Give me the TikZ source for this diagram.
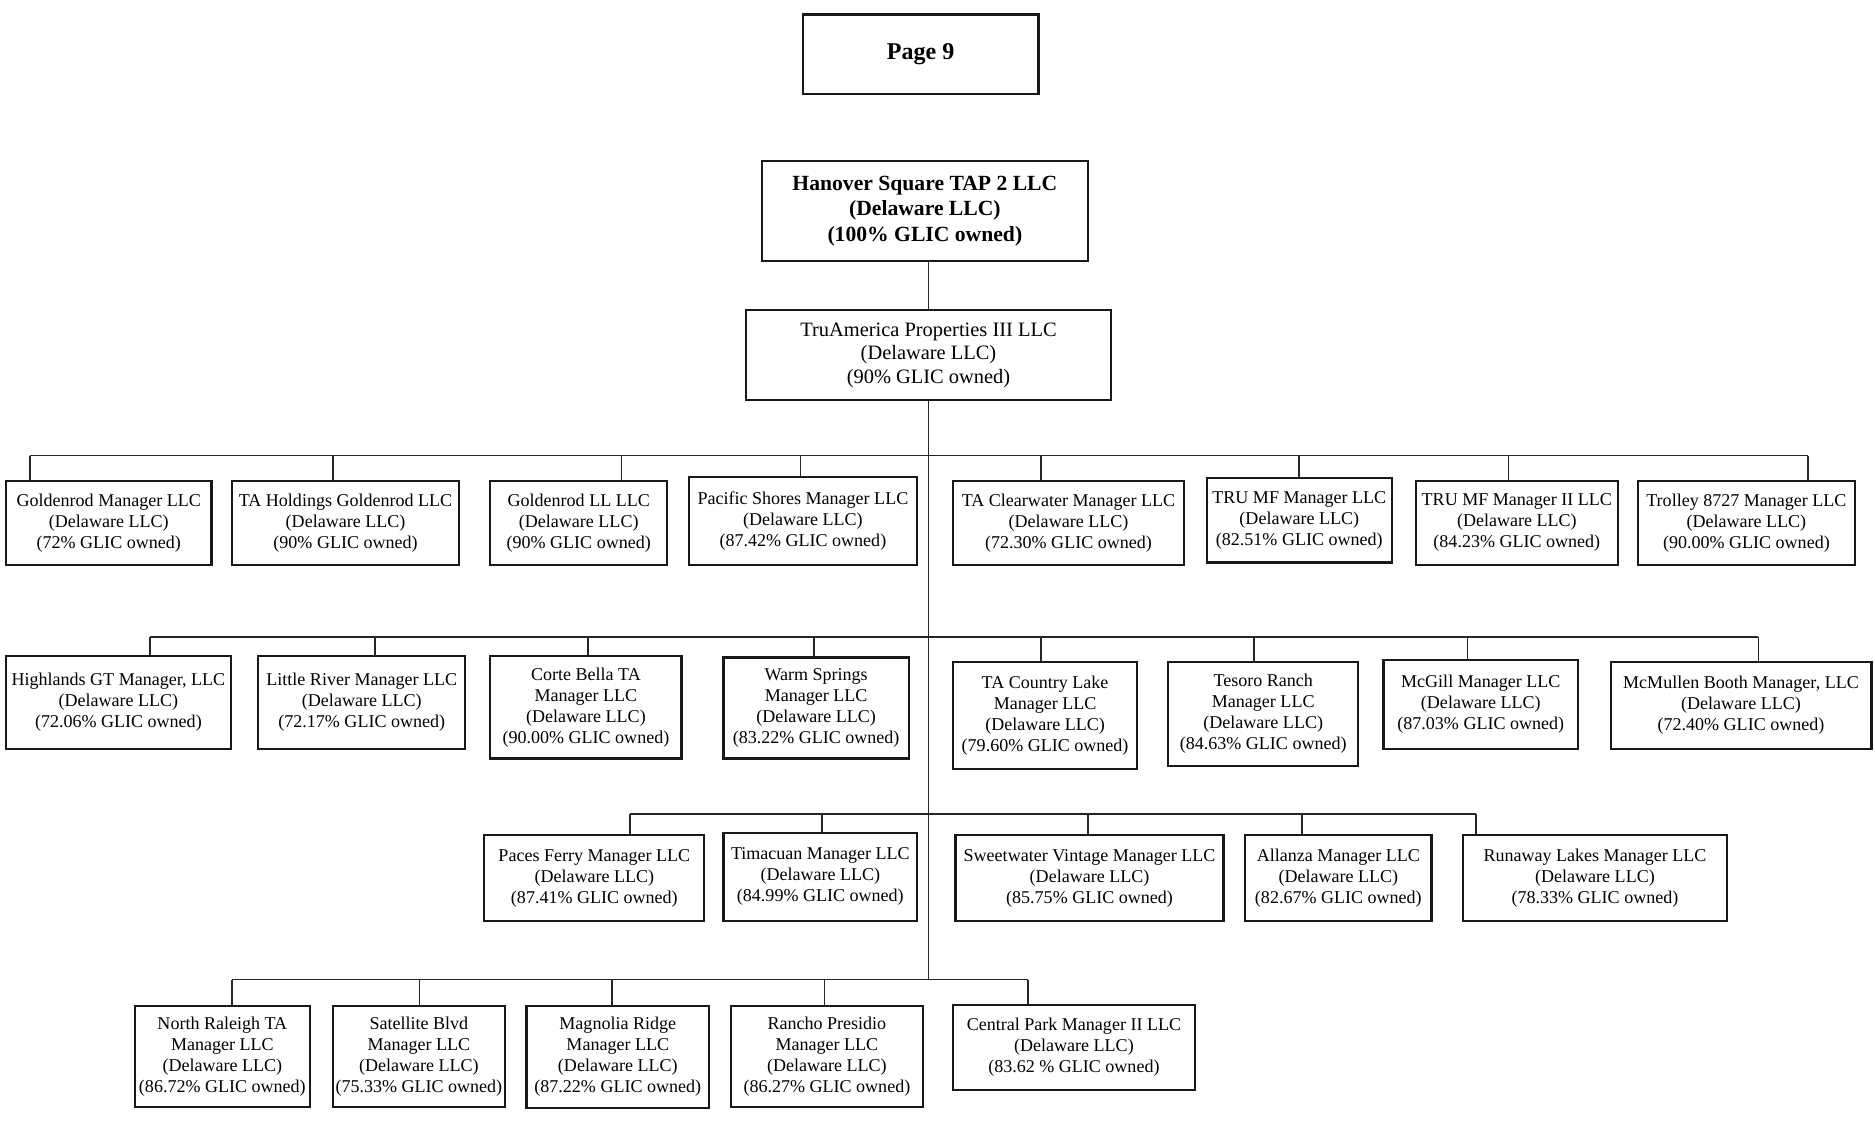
\documentclass[tikz,border=0pt]{standalone}
\usepackage{fontspec}
\setmainfont{Liberation Serif}
\tikzset{
  box/.style={draw=black!90, line width=1.8pt, inner sep=0pt, align=center, font=\fontsize{15}{17.5}\selectfont},
  conn/.style={draw=black!85, line width=1.5pt}
}
\newcommand\ent[8]{%
  \node[box, minimum width={(#4-#2)*1pt}, minimum height={(#5-#3)*1pt}] (#1) at ({(#2+#4)/2},{(#3+#5)/2}) {#8};
  \coordinate (#1-j) at (#6,#7);
  \draw[conn] (#1-j) -- (#1-j |- #1.north);}
\begin{document}
\begin{tikzpicture}[x=1pt,y=-1pt]
\useasboundingbox[fill=white] (0,0) rectangle (1560,932.7);
% page label
\node[box, minimum width=196pt, minimum height=66pt, font=\fontsize{20}{24}\selectfont\bfseries] (page) at (766,45) {Page 9};
% top entities
\node[box, minimum width=271pt, minimum height=83pt, font=\fontsize{18}{21}\selectfont\bfseries] (han) at (769.5,175.5) {Hanover Square TAP 2 LLC\\(Delaware LLC)\\(100\% GLIC owned)};
\node[box, minimum width=303pt, minimum height=75pt, font=\fontsize{17}{19.5}\selectfont] (tru) at (772.5,295.5) {TruAmerica Properties III LLC\\(Delaware LLC)\\(90\% GLIC owned)};
\draw[conn] (tru.north |- han.south) -- (tru.north);
% buses
\coordinate (b1L) at (25,379);  \coordinate (b1R) at (1504,379);
\coordinate (b2L) at (125,530); \coordinate (b2R) at (1463,530);
\coordinate (b3L) at (524,677); \coordinate (b3R) at (1228,677);
\coordinate (b4L) at (193,815); \coordinate (b4R) at (855,815);
\draw[conn] (b1L) -- (b1R);
\draw[conn] (b2L) -- (b2R);
\draw[conn] (b3L) -- (b3R);
\draw[conn] (b4L) -- (b4R);
\draw[conn] (tru.south) -- (tru.south |- b4L);
% row 1
\ent{a1}{5}{400}{176}{470}{25}{379}{Goldenrod Manager LLC\\(Delaware LLC)\\(72\% GLIC owned)}
\ent{a2}{193}{400}{382}{470}{277}{379}{TA Holdings Goldenrod LLC\\(Delaware LLC)\\(90\% GLIC owned)}
\ent{a3}{408}{400}{555}{470}{517}{379}{Goldenrod LL LLC\\(Delaware LLC)\\(90\% GLIC owned)}
\ent{a4}{573}{397}{763}{470}{666}{379}{Pacific Shores Manager LLC\\(Delaware LLC)\\(87.42\% GLIC owned)}
\ent{a5}{793}{400}{985}{470}{866}{379}{TA Clearwater Manager LLC\\(Delaware LLC)\\(72.30\% GLIC owned)}
\ent{a6}{1004}{398}{1158}{468}{1081}{379}{TRU MF Manager LLC\\(Delaware LLC)\\(82.51\% GLIC owned)}
\ent{a7}{1178}{400}{1346}{470}{1255}{379}{TRU MF Manager II LLC\\(Delaware LLC)\\(84.23\% GLIC owned)}
\ent{a8}{1363}{400}{1543}{470}{1504}{379}{Trolley 8727 Manager LLC\\(Delaware LLC)\\(90.00\% GLIC owned)}
% row 2
\ent{c1}{5}{546}{192}{623}{125}{530}{Highlands GT Manager, LLC\\(Delaware LLC)\\(72.06\% GLIC owned)}
\ent{c2}{215}{546}{387}{623}{312}{530}{Little River Manager LLC\\(Delaware LLC)\\(72.17\% GLIC owned)}
\ent{c3}{408}{546}{567}{631}{489}{530}{Corte Bella TA\\Manager LLC\\(Delaware LLC)\\(90.00\% GLIC owned)}
\ent{c4}{602}{547}{756}{631}{677}{530}{Warm Springs\\Manager LLC\\(Delaware LLC)\\(83.22\% GLIC owned)}
\ent{c5}{793}{551}{946}{640}{866}{530}{TA Country Lake\\Manager LLC\\(Delaware LLC)\\(79.60\% GLIC owned)}
\ent{c6}{972}{551}{1130}{637}{1043}{530}{Tesoro Ranch\\Manager LLC\\(Delaware LLC)\\(84.63\% GLIC owned)}
\ent{c7}{1151}{549}{1313}{623}{1221}{530}{McGill Manager LLC\\(Delaware LLC)\\(87.03\% GLIC owned)}
\ent{c8}{1340}{551}{1557}{623}{1463}{530}{McMullen Booth Manager, LLC\\(Delaware LLC)\\(72.40\% GLIC owned)}
% row 3
\ent{d1}{403}{695}{586}{766}{524}{677}{Paces Ferry Manager LLC\\(Delaware LLC)\\(87.41\% GLIC owned)}
\ent{d2}{602}{693}{763}{766}{684}{677}{Timacuan Manager LLC\\(Delaware LLC)\\(84.99\% GLIC owned)}
\ent{d3}{795}{695}{1018}{766}{905}{677}{Sweetwater Vintage Manager LLC\\(Delaware LLC)\\(85.75\% GLIC owned)}
\ent{d4}{1036}{695}{1191}{766}{1083}{677}{Allanza Manager LLC\\(Delaware LLC)\\(82.67\% GLIC owned)}
\ent{d5}{1217}{695}{1437}{766}{1228}{677}{Runaway Lakes Manager LLC\\(Delaware LLC)\\(78.33\% GLIC owned)}
% row 4
\ent{e1}{112}{837}{258}{921}{193}{815}{North Raleigh TA\\Manager LLC\\(Delaware LLC)\\(86.72\% GLIC owned)}
\ent{e2}{277}{837}{420}{921}{349}{815}{Satellite Blvd\\Manager LLC\\(Delaware LLC)\\(75.33\% GLIC owned)}
\ent{e3}{438}{837}{590}{922}{509}{815}{Magnolia Ridge\\Manager LLC\\(Delaware LLC)\\(87.22\% GLIC owned)}
\ent{e4}{608}{837}{768}{921}{686}{815}{Rancho Presidio\\Manager LLC\\(Delaware LLC)\\(86.27\% GLIC owned)}
\ent{e5}{793}{836}{994}{907}{855}{815}{Central Park Manager II LLC\\(Delaware LLC)\\(83.62 \% GLIC owned)}
\end{tikzpicture}
\end{document}
